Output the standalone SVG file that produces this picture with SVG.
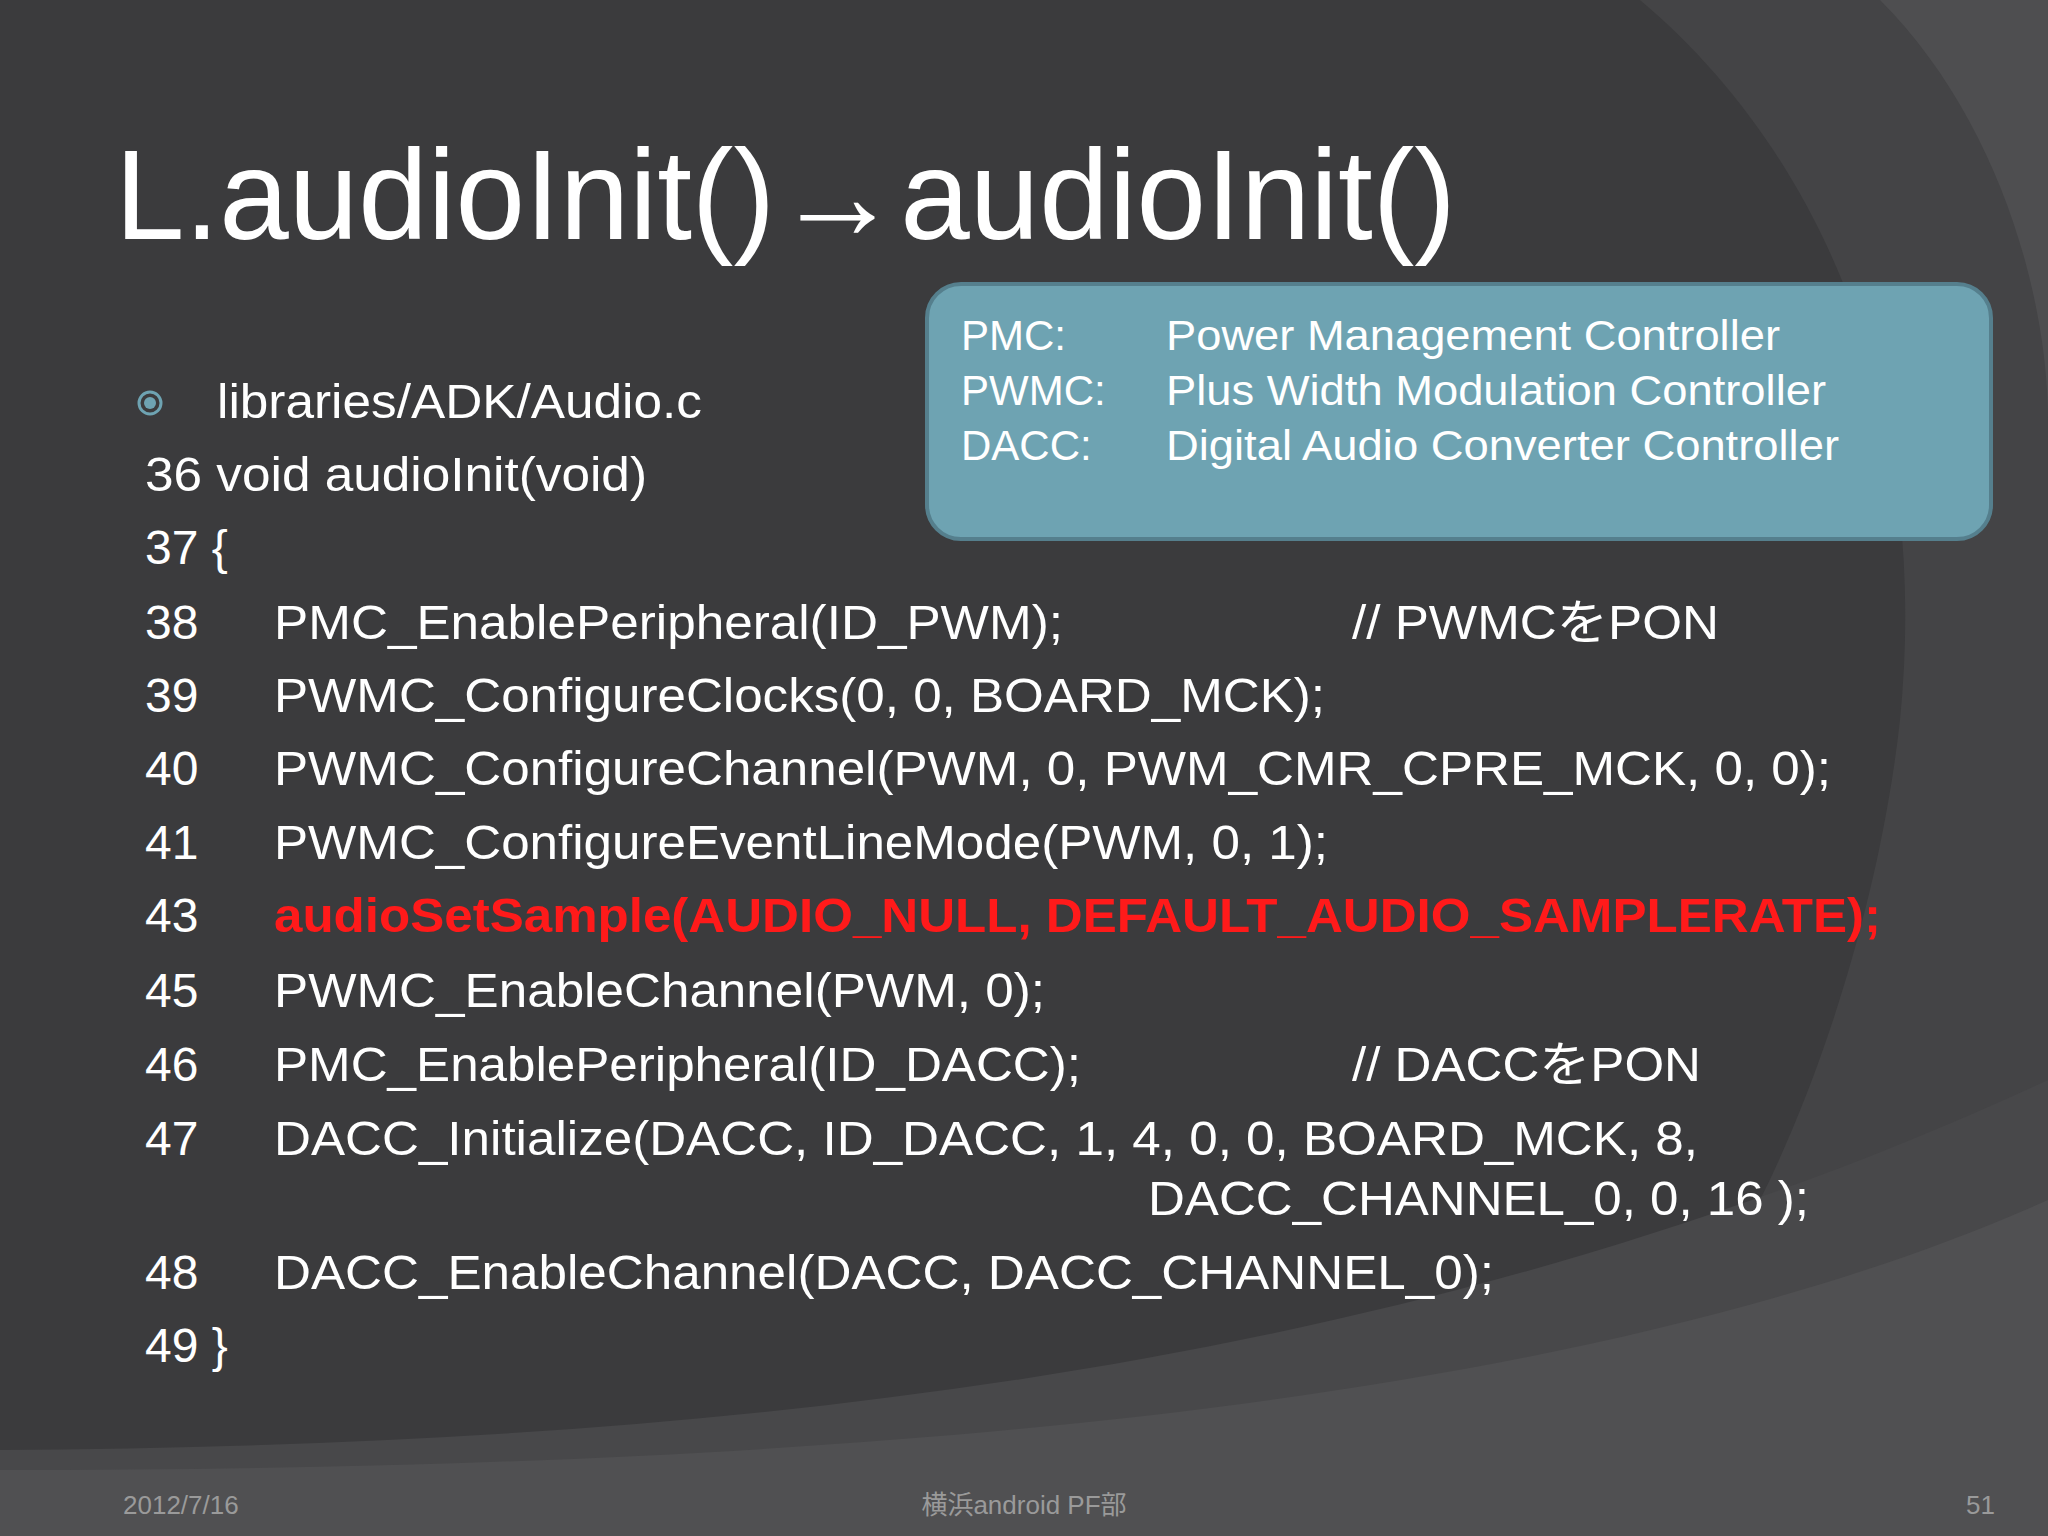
<svg xmlns="http://www.w3.org/2000/svg" width="2048" height="1536" viewBox="0 0 2048 1536">
<style>
text{font-family:"Liberation Sans","Noto Sans CJK JP",sans-serif;fill:#ffffff}
.c{font-size:48px}
.b{font-size:42px}
.f{font-size:26px;fill:#9a9a9a}
.r{fill:#ff1a1a;font-weight:bold}
</style>
<rect width="2048" height="1536" fill="#3b3b3d"/>
<path d="M1640,0 C1830,160 1930,420 1900,720 C1880,900 1820,1080 1760,1200 L2048,1100 L2048,0 Z" fill="#444446"/>
<path d="M1880,0 C2000,120 2048,300 2048,420 L2048,0 Z" fill="#4e4e50"/>
<path d="M0,1450 C700,1445 1400,1380 2048,1080 L2048,1536 L0,1536 Z" fill="#48484a"/>
<path d="M0,1470 C900,1470 1600,1400 2048,1200 L2048,1536 L0,1536 Z" fill="#505052"/>
<text x="115" y="239" font-size="128" font-weight="300" textLength="1341" lengthAdjust="spacingAndGlyphs">L.audioInit()→audioInit()</text>
<g id="box">
<rect x="927" y="284" width="1064" height="255" rx="34" fill="#6ea3b2" stroke="#557f8d" stroke-width="4"/>
<text class="b" x="961" y="350">PMC:</text><text class="b" x="1166" y="350" textLength="614" lengthAdjust="spacingAndGlyphs">Power Management Controller</text>
<text class="b" x="961" y="405">PWMC:</text><text class="b" x="1166" y="405" textLength="660" lengthAdjust="spacingAndGlyphs">Plus Width Modulation Controller</text>
<text class="b" x="961" y="460">DACC:</text><text class="b" x="1166" y="460" textLength="673" lengthAdjust="spacingAndGlyphs">Digital Audio Converter Controller</text>
</g>
<g id="code">
<circle cx="150" cy="403" r="11" fill="none" stroke="#6ea3b2" stroke-width="3"/>
<circle cx="150" cy="403" r="6" fill="#6ea3b2"/>
<text class="c" x="217" y="418" textLength="485" lengthAdjust="spacingAndGlyphs">libraries/ADK/Audio.c</text>
<text class="c" x="145" y="491" textLength="502" lengthAdjust="spacingAndGlyphs">36 void audioInit(void)</text>
<text class="c" x="145" y="564">37 {</text>
<text class="c" x="145" y="639">38</text><text class="c" x="274" y="639" textLength="789" lengthAdjust="spacingAndGlyphs">PMC_EnablePeripheral(ID_PWM);</text><text class="c" x="1352" y="639" textLength="367" lengthAdjust="spacingAndGlyphs">// PWMCをPON</text>
<text class="c" x="145" y="712">39</text><text class="c" x="274" y="712" textLength="1051" lengthAdjust="spacingAndGlyphs">PWMC_ConfigureClocks(0, 0, BOARD_MCK);</text>
<text class="c" x="145" y="785">40</text><text class="c" x="274" y="785" textLength="1557" lengthAdjust="spacingAndGlyphs">PWMC_ConfigureChannel(PWM, 0, PWM_CMR_CPRE_MCK, 0, 0);</text>
<text class="c" x="145" y="859">41</text><text class="c" x="274" y="859" textLength="1054" lengthAdjust="spacingAndGlyphs">PWMC_ConfigureEventLineMode(PWM, 0, 1);</text>
<text class="c" x="145" y="932">43</text><text class="c r" x="274" y="932" textLength="1607" lengthAdjust="spacingAndGlyphs">audioSetSample(AUDIO_NULL, DEFAULT_AUDIO_SAMPLERATE);</text>
<text class="c" x="145" y="1007">45</text><text class="c" x="274" y="1007" textLength="771" lengthAdjust="spacingAndGlyphs">PWMC_EnableChannel(PWM, 0);</text>
<text class="c" x="145" y="1081">46</text><text class="c" x="274" y="1081" textLength="807" lengthAdjust="spacingAndGlyphs">PMC_EnablePeripheral(ID_DACC);</text><text class="c" x="1352" y="1081" textLength="349" lengthAdjust="spacingAndGlyphs">// DACCをPON</text>
<text class="c" x="145" y="1155">47</text><text class="c" x="274" y="1155" textLength="1424" lengthAdjust="spacingAndGlyphs">DACC_Initialize(DACC, ID_DACC, 1, 4, 0, 0, BOARD_MCK, 8,</text>
<text class="c" x="1148" y="1215" textLength="661" lengthAdjust="spacingAndGlyphs">DACC_CHANNEL_0, 0, 16 );</text>
<text class="c" x="145" y="1289">48</text><text class="c" x="274" y="1289" textLength="1220" lengthAdjust="spacingAndGlyphs">DACC_EnableChannel(DACC, DACC_CHANNEL_0);</text>
<text class="c" x="145" y="1362">49 }</text>
</g>
<text class="f" x="123" y="1514">2012/7/16</text>
<text class="f" x="1024" y="1514" text-anchor="middle">横浜android PF部</text>
<text class="f" x="1995" y="1514" text-anchor="end">51</text>
</svg>
